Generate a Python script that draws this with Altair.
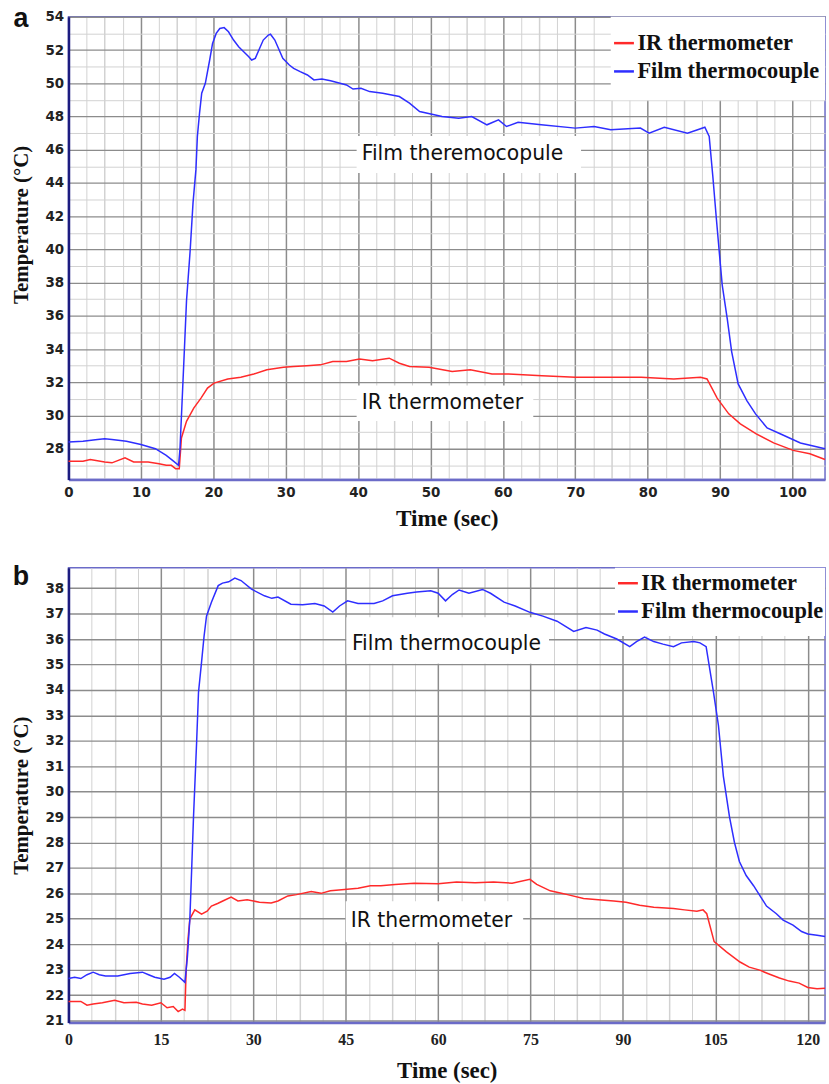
import altair as alt
import pandas as pd

# ---------------- Panel a data ----------------
a_film_t = [0, 2, 4, 5, 6, 8, 10, 12, 13.5, 14.5, 15.2, 15.4, 16.0, 16.3, 16.8, 17.2, 17.6, 17.8, 18.1, 18.4,
            18.9, 19.5, 19.9, 20.4, 20.9, 21.5, 22.1, 22.8, 23.5, 24.2, 24.9, 25.3, 25.8, 26.3, 26.9, 27.6,
            27.9, 28.5, 29.1, 29.6, 30.5, 31.1, 32.0, 33.0, 33.9, 35.0, 36.2, 37.5, 38.4, 39.3, 40.4, 41.6,
            43.4, 45.7, 47.1, 48.5, 51.6, 53.9, 55.7, 57.8, 59.4, 60.5, 62.1, 65.3, 70.0, 72.6, 74.9, 79.0,
            80.2, 82.3, 85.5, 86.9, 87.9, 88.5, 89.0, 89.5, 89.9, 90.3, 91.0, 91.6, 92.5, 93.7, 94.9, 96.5,
            98.3, 101.1, 104.5]
a_film_T = [28.4, 28.45, 28.55, 28.6, 28.55, 28.45, 28.25, 28.0, 27.6, 27.25, 27.0, 28.0, 33.9, 36.9, 39.9,
            42.8, 44.8, 46.8, 48.2, 49.4, 50.0, 51.4, 52.4, 53.0, 53.3, 53.35, 53.1, 52.6, 52.2, 51.9, 51.6,
            51.4, 51.5, 52.0, 52.6, 52.9, 52.95, 52.6, 52.0, 51.5, 51.1, 50.9, 50.7, 50.5, 50.2, 50.25, 50.15,
            50.0, 49.9, 49.65, 49.7, 49.5, 49.4, 49.2, 48.8, 48.3, 48.0, 47.9, 48.0, 47.5, 47.8, 47.4, 47.65,
            47.5, 47.3, 47.4, 47.2, 47.3, 47.0, 47.35, 47.0, 47.2, 47.35, 46.8, 44.4, 41.8, 39.8, 37.85, 35.8,
            33.85, 31.9, 30.9, 30.1, 29.25, 28.9, 28.35, 28.0]

a_ir_t = [0, 2, 3, 5, 6, 7.8, 9, 11, 12.5, 13.5, 14.2, 14.8, 15.3, 15.6, 16.3, 17.3, 18.3, 19.2, 20.1, 22.0,
          23.8, 25.6, 27.4, 29.7, 31.1, 32.9, 34.8, 36.5, 38.4, 40.2, 42.0, 44.3, 45.7, 47.1, 49.8, 53.0,
          55.5, 58.5, 60.8, 65.4, 70.0, 74.6, 79.1, 83.6, 87.3, 88.2, 89.6, 91.2, 92.8, 95.0, 97.4, 100.1,
          102.4, 104.5]
a_ir_T = [27.24, 27.25, 27.35, 27.2, 27.15, 27.45, 27.2, 27.2, 27.1, 27.0, 27.0, 26.8, 26.8, 28.65, 29.65,
          30.45, 31.05, 31.65, 31.95, 32.2, 32.3, 32.5, 32.75, 32.9, 32.95, 33.0, 33.05, 33.25, 33.25, 33.4,
          33.3, 33.45, 33.15, 32.95, 32.9, 32.65, 32.75, 32.5, 32.5, 32.4, 32.3, 32.3, 32.3, 32.2, 32.3, 32.2,
          31.05, 30.1, 29.5, 28.9, 28.35, 27.9, 27.7, 27.35]

# ---------------- Panel b data ----------------
b_film_t = [0, 1, 2, 3, 4, 5, 6, 8, 10, 12, 13, 14, 15.5, 16.5, 17.2, 18, 18.9, 19.3, 19.7, 20.0, 20.3, 20.8,
            21.1, 21.6, 22.0, 22.4, 23.2, 24.3, 25.0, 26.0, 27.0, 28.0, 29.7, 31.8, 33, 34, 36.1, 38, 40, 41.5,
            42.9, 44, 45.3, 47, 49.6, 51, 52.6, 55, 56.5, 58.8, 60, 61.2, 62.3, 63.4, 65, 67.2, 68.5, 70.7,
            72.5, 74.9, 77, 79.3, 82, 84, 85.8, 87, 89, 91.1, 92.2, 93.5, 95, 96.5, 98.2, 99.5, 101.5, 102.5,
            103.5, 104.7, 105.5, 106.3, 107.3, 108.1, 108.9, 110, 111.2, 113.3, 114.9, 116, 117.6, 119, 120,
            121.5, 122.8]
b_film_T = [22.65, 22.7, 22.65, 22.8, 22.9, 22.8, 22.75, 22.75, 22.85, 22.9, 22.8, 22.7, 22.62, 22.7, 22.85,
            22.7, 22.5, 23.5, 25.0, 27.0, 29.06, 31.96, 33.9, 35.1, 36.1, 36.9, 37.45, 38.1, 38.2, 38.25, 38.4,
            38.3, 37.96, 37.7, 37.6, 37.65, 37.37, 37.35, 37.4, 37.3, 37.06, 37.3, 37.5, 37.4, 37.4, 37.5, 37.7,
            37.8, 37.85, 37.9, 37.8, 37.5, 37.75, 37.93, 37.8, 37.95, 37.8, 37.45, 37.3, 37.05, 36.9, 36.7,
            36.3, 36.45, 36.35, 36.2, 36.0, 35.7, 35.9, 36.08, 35.9, 35.8, 35.7, 35.85, 35.9, 35.85, 35.7,
            33.9, 32.6, 30.6, 29.0, 28.0, 27.25, 26.7, 26.3, 25.5, 25.2, 24.95, 24.75, 24.5, 24.4, 24.35, 24.3]

b_ir_t = [0, 2, 3, 4, 5.5, 7.5, 9, 11, 12, 13.5, 15, 16, 17, 17.8, 18.5, 18.9, 19.1, 19.4, 19.7, 20.5, 21.6,
          22.5, 23.2, 24.2, 25.3, 26.4, 27.5, 29, 31, 32.9, 34, 35.6, 37, 39.4, 41, 42.5, 44.8, 47, 49, 50.7,
          53, 56.1, 60, 63, 66, 69, 72, 74.9, 76, 78.2, 80, 81, 83.6, 86, 88.5, 90.5, 92.7, 95, 98.2, 100,
          102, 103, 103.6, 104.8, 106.8, 109, 110.5, 112.2, 113.5, 115.4, 117, 118.6, 120, 121.5, 122.8]
b_ir_T = [21.75, 21.75, 21.6, 21.65, 21.7, 21.8, 21.7, 21.72, 21.65, 21.6, 21.7, 21.5, 21.55, 21.35, 21.45,
          21.4, 23.0, 24.2, 25.0, 25.35, 25.18, 25.3, 25.5, 25.6, 25.73, 25.85, 25.7, 25.75, 25.65, 25.62,
          25.7, 25.9, 25.95, 26.07, 26.0, 26.1, 26.15, 26.2, 26.3, 26.3, 26.35, 26.4, 26.38, 26.45, 26.42,
          26.45, 26.4, 26.55, 26.35, 26.1, 26.0, 25.95, 25.8, 25.75, 25.7, 25.65, 25.53, 25.45, 25.4, 25.35,
          25.3, 25.35, 25.2, 24.1, 23.7, 23.3, 23.1, 22.98, 22.85, 22.67, 22.55, 22.47, 22.3, 22.25, 22.27]

SERIES = ["IR thermometer", "Film thermocouple"]
COLORS = ["#ff2a2a", "#2e2eff"]

# annotations: label, text x, text y, white box extents
a_notes = ["Film theremocopule", "IR thermometer"]
a_note_t = [40.5, 40.5]
a_note_T = [45.75, 30.75]
a_box_t1 = [39.8, 39.8]
a_box_t2 = [70.8, 64.2]
a_box_T1 = [46.83, 31.8]
a_box_T2 = [44.6, 29.67]
a_leg_box = [74.9, 104.5, 54.0, 48.98]

b_notes = ["Film thermocouple", "IR thermometer"]
b_note_t = [46.0, 45.8]
b_note_T = [35.8, 24.9]
b_box_t1 = [45.1, 45.0]
b_box_t2 = [78.0, 73.8]
b_box_T1 = [36.86, 25.69]
b_box_T2 = [35.03, 24.08]
b_leg_box = [88.7, 122.8, 38.8, 36.12]

DARK = "#8c8c8c"
LIGHT = "#d2d2d2"
AXIS_BLUE = "#6b6bc8"
NAVY = "#1c1c80"


def panel(tag, tag_y, film_t, film_T, ir_t, ir_T, notes, note_t, note_T, bt1, bt2, bT1, bT2, leg_box,
          xdom, ydom, xvals, xmajor, yvals, ymajor_expr, ylabel_expr, width, height,
          xlabfont, xlabsize, xlabpad, xtitle_size, xtitle_pad, ytitle_y, legx, legy):
    lines_df = pd.concat([
        pd.DataFrame({"t": ir_t, "T": ir_T, "series": SERIES[0]}),
        pd.DataFrame({"t": film_t, "T": film_T, "series": SERIES[1]}),
    ])
    boxes_df = pd.DataFrame({"t": bt1 + [leg_box[0]], "t2": bt2 + [leg_box[1]],
                             "T": bT1 + [leg_box[2]], "T2": bT2 + [leg_box[3]]})
    notes_df = pd.DataFrame({"t": note_t, "T": note_T, "label": notes})

    xenc = alt.X("t:Q", scale=alt.Scale(domain=xdom, nice=False, zero=False),
                 axis=alt.Axis(values=xvals, title="Time (sec)",
                               labelExpr=f"datum.value % {xmajor} === 0 ? datum.label : ''",
                               labelOverlap=False, labelFlush=False, ticks=False,
                               grid=True,
                               gridColor={"condition": {"test": f"datum.value % {xmajor} === 0", "value": DARK},
                                          "value": LIGHT},
                               gridWidth={"condition": {"test": f"datum.value % {xmajor / 2} === 0", "value": 1.5},
                                          "value": 1},
                               domainColor=AXIS_BLUE, domainWidth=2.5,
                               labelFont=xlabfont, labelFontWeight="bold", labelFontSize=xlabsize,
                               labelColor="#222222", labelPadding=xlabpad,
                               titleFont="Liberation Serif", titleFontWeight="bold", titleFontSize=xtitle_size,
                               titleColor="#111111", titlePadding=xtitle_pad))
    yenc = alt.Y("T:Q", scale=alt.Scale(domain=ydom, nice=False, zero=False),
                 axis=alt.Axis(values=yvals, title="Temperature (°C)",
                               labelExpr=ylabel_expr, labelOverlap=False, labelFlush=False, ticks=False,
                               grid=True,
                               gridColor={"condition": {"test": ymajor_expr, "value": DARK}, "value": LIGHT},
                               gridWidth={"condition": {"test": ymajor_expr, "value": 1.4}, "value": 1},
                               domainColor=NAVY, domainWidth=2.5,
                               labelFont="DejaVu Sans", labelFontWeight="bold", labelFontSize=13.5,
                               labelColor="#222222", labelPadding=5,
                               titleFont="Liberation Serif", titleFontWeight="bold", titleFontSize=21,
                               titleColor="#111111", titleX=-47, titleY=ytitle_y, titleBaseline="middle",
                               titleAlign="center", titleAngle=270))

    boxes = alt.Chart(boxes_df).mark_rect(color="white").encode(x=xenc, x2="t2:Q", y=yenc, y2="T2:Q")
    lines = alt.Chart(lines_df).mark_line(strokeWidth=1.5).encode(
        x=xenc, y=yenc,
        color=alt.Color("series:N", scale=alt.Scale(domain=SERIES, range=COLORS),
                        legend=alt.Legend(orient="none", legendX=legx, legendY=legy, title=None,
                                          labelFont="Liberation Serif", labelFontSize=22.5,
                                          labelFontWeight="bold", labelColor="#111111",
                                          symbolType="stroke", symbolSize=400, symbolStrokeWidth=2.5,
                                          rowPadding=5.5, padding=0, labelOffset=2, labelLimit=400)),
    )
    texts = alt.Chart(notes_df).mark_text(align="left", baseline="middle", font="DejaVu Sans",
                                          fontSize=20.5, color="#111111").encode(
        x=xenc, y=yenc, text="label:N")
    tag_df = pd.DataFrame({"lab": [tag]})
    tag_mark = alt.Chart(tag_df).mark_text(font="Liberation Sans", fontWeight="bold", fontSize=27,
                                           align="center", baseline="middle", color="#111111").encode(
        text="lab:N", x=alt.value(-48), y=alt.value(tag_y))
    return alt.layer(boxes, lines, texts, tag_mark).properties(width=width, height=height)


top = panel("a", 2, a_film_t, a_film_T, a_ir_t, a_ir_T, a_notes, a_note_t, a_note_T,
            a_box_t1, a_box_t2, a_box_T1, a_box_T2, a_leg_box,
            [0, 104.5], [26.15, 54], [i * 2.5 for i in range(42)], 10,
            list(range(27, 55)), "datum.value % 2 === 0", "datum.value % 2 === 0 ? datum.label : ''",
            762, 466, "DejaVu Sans", 13.5, 6, 23.5, 8, 209, 548, 15)

bottom = panel("b", 9, b_film_t, b_film_T, b_ir_t, b_ir_T, b_notes, b_note_t, b_note_T,
               b_box_t1, b_box_t2, b_box_T1, b_box_T2, b_leg_box,
               [0, 122.8], [20.92, 38.8], [k * 3.75 for k in range(33)], 15,
               list(range(21, 39)), "true", "datum.label",
               762, 458, "Liberation Serif", 16, 9, 23, 12, 229, 552, 4)

chart = alt.vconcat(top, bottom, spacing=89, bounds="flush").resolve_scale(
    color="independent", x="independent", y="independent"
).properties(
    padding={"left": 10, "top": 0, "right": 0, "bottom": 2},
    background="white",
).configure_view(stroke=AXIS_BLUE, strokeWidth=1.5)

chart.save("out.html", embed_options={"renderer": "svg", "actions": False})
